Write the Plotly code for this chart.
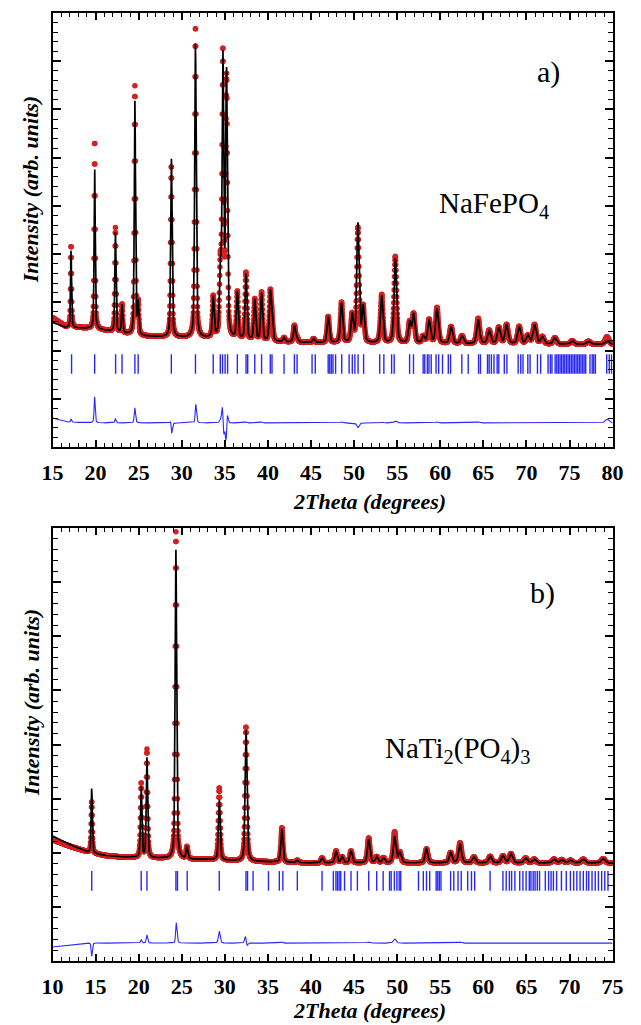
import numpy as np
import plotly.graph_objects as go

W, H = 641, 1025

# ---------------- Panel a) NaFePO4 ----------------
a_range = (15.0, 80.0)
# background of the observed pattern (2theta, level)
a_bg_tt = [15.0, 16.5, 20.0, 25.0, 30.0, 35.0, 40.0, 45.0, 50.0, 60.0, 70.0, 80.0]
a_bg_obs = [2.68, 2.50, 2.45, 2.30, 2.27, 2.24, 2.18, 2.16, 2.15, 2.14, 2.13, 2.13]
a_bg_calc = [2.58, 2.48, 2.45, 2.30, 2.27, 2.24, 2.18, 2.16, 2.15, 2.14, 2.13, 2.13]
# reflections: position, observed top, calculated top
a_pos = [17.15, 19.89, 22.30, 23.07, 24.56, 24.94, 28.79, 31.59, 33.65, 34.47,
         34.77, 35.20, 36.45, 37.45, 38.47, 39.26, 40.27, 40.47, 41.87, 43.07,
         43.38, 45.30, 46.99, 48.54, 49.77, 50.44, 51.05, 53.20, 54.78, 56.45,
         56.90, 58.03, 58.70, 59.62, 61.25, 62.52, 64.40, 65.67, 66.79, 67.70,
         69.15, 70.16, 70.94, 71.84, 73.30, 75.30, 77.20, 79.35]
a_obs_top = [4.18, 6.35, 4.54, 2.95, 7.47, 2.95, 5.83, 8.71, 3.09, 3.60,
             8.05, 7.55, 3.19, 3.60, 3.05, 3.19, 3.15, 2.60, 2.26, 2.51,
             2.25, 2.24, 2.70, 2.99, 2.72, 4.52, 2.88, 3.15, 3.94, 2.57,
             2.74, 2.28, 2.63, 2.88, 2.49, 2.30, 2.66, 2.41, 2.47, 2.53,
             2.49, 2.30, 2.53, 2.28, 2.26, 2.20, 2.19, 2.28]
a_calc_top = [4.10, 5.80, 4.45, 2.95, 7.16, 2.95, 5.98, 8.38, 3.09, 3.55,
              7.97, 7.70, 3.19, 3.58, 3.05, 3.17, 3.15, 2.60, 2.26, 2.51,
              2.25, 2.24, 2.70, 2.97, 2.72, 4.62, 2.88, 3.13, 3.90, 2.57,
              2.74, 2.28, 2.63, 2.86, 2.49, 2.30, 2.64, 2.41, 2.47, 2.53,
              2.49, 2.30, 2.53, 2.28, 2.26, 2.20, 2.19, 2.20]
a_calc_shift = {34.77: 0.008, 35.20: -0.008, 28.79: 0.004, 31.59: -0.003}
a_bragg = [17.21, 19.89, 22.32, 23.07, 24.56, 24.94, 28.79, 31.59, 33.65, 34.47,
           34.73, 35.03, 35.32, 36.45, 37.46, 37.65, 38.47, 39.26, 40.27, 40.47,
           41.87, 43.07, 43.38, 45.12, 45.49, 46.99, 47.17, 47.36, 47.55, 47.85,
           48.56, 49.42, 49.79, 50.09, 50.46, 51.10, 52.97, 53.45, 54.35, 54.65,
           56.44, 56.89, 58.01, 58.20, 58.50, 58.69, 58.95, 59.51, 59.81, 60.26,
           60.93, 61.19, 62.50, 63.24, 64.44, 64.66, 65.48, 65.67, 65.93, 66.23,
           66.60, 66.79, 67.43, 67.73, 69.04, 69.34, 69.60, 70.16, 70.42, 71.28,
           71.65, 72.51, 72.77, 72.96, 73.33, 73.52, 73.71, 73.90, 74.08, 74.27,
           74.45, 74.64, 74.83, 75.01, 75.20, 75.39, 75.57, 75.76, 75.95, 76.13,
           76.32, 76.51, 76.69, 76.88, 77.37, 77.63, 77.81, 78.00, 79.32, 79.61,
           79.88]
a_tick_level = 1.72
a_diff_level = 0.50

# ---------------- Panel b) NaTi2(PO4)3 ----------------
b_range = (10.0, 75.0)
b_bg_tt = [10.0, 12.0, 14.0, 16.0, 18.0, 22.0, 28.0, 35.0, 40.0, 75.0]
b_bg_obs = [2.24, 2.12, 2.02, 1.95, 1.92, 1.90, 1.87, 1.83, 1.81, 1.81]
b_bg_calc = [2.31, 2.15, 2.01, 1.95, 1.92, 1.90, 1.87, 1.83, 1.81, 1.81]
b_pos = [14.55, 20.29, 20.96, 24.32, 25.60, 29.35, 32.45, 36.62, 38.41, 41.28,
         42.90, 43.60, 44.64, 46.69, 47.62, 48.40, 49.70, 50.30, 53.40, 56.20,
         57.30, 58.90, 60.78, 62.27, 63.20, 64.90, 65.90, 68.20, 69.10, 70.10,
         71.60, 73.90]
b_obs_top = [2.95, 3.28, 3.90, 7.93, 2.10, 3.20, 4.33, 2.46, 1.86, 1.90,
             2.03, 1.92, 2.03, 2.27, 1.92, 1.90, 2.38, 2.00, 2.07, 2.00,
             2.18, 1.92, 1.93, 1.94, 1.98, 1.90, 1.88, 1.88, 1.87, 1.86,
             1.88, 1.89]
b_calc_top = [3.20, 3.22, 3.75, 7.60, 2.10, 2.98, 4.27, 2.44, 1.86, 1.90,
              2.03, 1.92, 2.03, 2.25, 1.92, 1.90, 2.30, 2.00, 2.07, 2.00,
              2.16, 1.92, 1.93, 1.94, 1.98, 1.90, 1.88, 1.88, 1.87, 1.86,
              1.88, 1.89]
b_calc_shift = {32.45: 0.006, 24.32: -0.003}
b_bragg = [14.55, 20.29, 20.96, 24.32, 24.50, 25.63, 29.35, 32.45, 32.63, 33.27,
           35.06, 36.32, 36.73, 38.41, 41.28, 42.59, 42.89, 43.07, 43.26, 43.45,
           43.89, 44.64, 45.38, 46.69, 47.62, 48.37, 49.11, 49.30, 49.67, 49.97,
           50.23, 50.41, 52.47, 53.03, 53.40, 53.77, 54.52, 54.71, 54.89, 55.08,
           56.20, 56.57, 57.06, 57.43, 58.18, 58.62, 58.99, 60.78, 62.27, 62.65,
           63.02, 63.28, 63.66, 64.22, 64.59, 64.96, 65.33, 65.52, 65.78, 66.00,
           66.26, 66.52, 67.19, 67.57, 67.86, 68.13, 68.50, 69.06, 69.62, 70.10,
           70.48, 70.85, 71.22, 71.60, 71.97, 72.23, 72.61, 72.98, 73.35, 73.73,
           74.09, 74.46]
b_tick_level = 1.48
b_diff_level = 0.33

STEP = 0.02


def pseudo_voigt(x, centre, fwhm, eta=0.45):
    u = (x - centre) / fwhm
    gauss = np.exp(-4.0 * np.log(2.0) * u * u)
    lorentz = 1.0 / (1.0 + 4.0 * u * u)
    return eta * lorentz + (1.0 - eta) * gauss


def profile(tt, bg_tt, bg_lv, pos, tops, shifts, w0, w1, tt0):
    bg = np.interp(tt, bg_tt, bg_lv)
    y = bg.copy()
    for p, top in zip(pos, tops):
        net = top - np.interp(p, bg_tt, bg_lv)
        fwhm = w0 + w1 * (p - tt0)
        y += net * pseudo_voigt(tt, p + shifts.get(p, 0.0), fwhm)
    return y


def build(rng, bg_tt, bg_obs, bg_calc, pos, obs_top, calc_top, shift, w0, w1):
    tt = np.arange(rng[0], rng[1] + STEP / 2, STEP)
    obs = profile(tt, bg_tt, bg_obs, pos, obs_top, {}, w0, w1, rng[0])
    calc = profile(tt, bg_tt, bg_calc, pos, calc_top, shift, w0, w1, rng[0])
    return tt, obs, calc


RED = "rgb(212,32,32)"
BLUE = "rgb(40,40,250)"
SERIF = "Liberation Serif, Times New Roman, serif"

fig = go.Figure()

panels = [
    dict(xa="x", ya="y", rng=a_range, data=build(a_range, a_bg_tt, a_bg_obs, a_bg_calc,
                                                 a_pos, a_obs_top, a_calc_top, a_calc_shift,
                                                 0.12, 0.0055),
         bragg=a_bragg, tick=a_tick_level, diff=a_diff_level),
    dict(xa="x2", ya="y2", rng=b_range, data=build(b_range, b_bg_tt, b_bg_obs, b_bg_calc,
                                                   b_pos, b_obs_top, b_calc_top, b_calc_shift,
                                                   0.13, 0.0055),
         bragg=b_bragg, tick=b_tick_level, diff=b_diff_level),
]

for pnl in panels:
    tt, obs, calc = pnl["data"]
    common = dict(xaxis=pnl["xa"], yaxis=pnl["ya"], showlegend=False, hoverinfo="skip")
    fig.add_trace(go.Scatter(x=tt, y=obs, mode="markers",
                             marker=dict(size=5.5, color=RED, line=dict(width=0)), **common))
    fig.add_trace(go.Scatter(x=tt, y=calc, mode="lines",
                             line=dict(color="black", width=1.7), **common))
    fig.add_trace(go.Scatter(x=pnl["bragg"], y=[pnl["tick"]] * len(pnl["bragg"]), mode="markers",
                             marker=dict(symbol="line-ns", size=14,
                                         line=dict(color=BLUE, width=1.4)), **common))
    fig.add_trace(go.Scatter(x=tt, y=obs - calc + pnl["diff"], mode="lines",
                             line=dict(color=BLUE, width=1.1), **common))

x_dom = [43 / W, 623 / W]


def xaxis_style(rng, anchor):
    vals = list(range(int(rng[0]), int(rng[1]) + 1, 5))
    return dict(domain=x_dom, anchor=anchor, range=list(rng),
                tickmode="array", tickvals=vals, ticktext=[f"<b>{v}</b>" for v in vals],
                ticks="inside", ticklen=7, tickwidth=1.5, tickcolor="black",
                minor=dict(dtick=1, ticks="inside", ticklen=4, tickwidth=1.2, tickcolor="black"),
                showline=True, linewidth=2, linecolor="black", mirror="allticks",
                showgrid=False, zeroline=False, ticklabelstandoff=5,
                tickfont=dict(family=SERIF, size=22, color="black"))


def yaxis_style(top, anchor, dom):
    return dict(domain=dom, anchor=anchor, range=[0, top], dtick=1,
                ticks="inside", ticklen=8, tickwidth=1.5, tickcolor="black",
                minor=dict(dtick=0.2, ticks="inside", ticklen=5, tickwidth=1.2, tickcolor="black"),
                showline=True, linewidth=2, linecolor="black", mirror="allticks",
                showgrid=False, zeroline=False, showticklabels=False)


fig.update_layout(
    width=W, height=H, autosize=False,
    margin=dict(l=0, r=0, t=0, b=0),
    paper_bgcolor="white", plot_bgcolor="white",
    xaxis=xaxis_style(a_range, "y"),
    yaxis=yaxis_style(9, "x", [1 - 447 / H, 1 - 13 / H]),
    xaxis2=xaxis_style(b_range, "y2"),
    yaxis2=yaxis_style(8, "x2", [1 - 961 / H, 1 - 528 / H]),
)

title_font = dict(family=SERIF, size=22, color="black")
label_font = dict(family=SERIF, size=30, color="black")
ann = []
for yc in (501, 1010):
    ann.append(dict(text="<b><i>2Theta (degrees)</i></b>", x=371 / W, y=1 - yc / H,
                    xref="paper", yref="paper", showarrow=False, font=title_font,
                    xanchor="center", yanchor="middle", borderpad=0))
for yc in (190, 703):
    ann.append(dict(text="<b><i>Intensity (arb. units)</i></b>", x=21 / W, y=1 - yc / H,
                    xref="paper", yref="paper", showarrow=False, font=title_font,
                    textangle=-90, xanchor="center", yanchor="middle"))
ann.append(dict(text="a)", x=557 / W, y=1 - 72 / H, xref="paper", yref="paper", showarrow=False,
                font=label_font, xanchor="center", yanchor="middle"))
ann.append(dict(text="b)", x=550 / W, y=1 - 593 / H, xref="paper", yref="paper", showarrow=False,
                font=label_font, xanchor="center", yanchor="middle"))
ann.append(dict(text="NaFePO<sub>4</sub>", x=500 / W, y=1 - 205 / H, xref="paper", yref="paper",
                showarrow=False, font=dict(family=SERIF, size=29, color="black"),
                xanchor="center", yanchor="middle"))
ann.append(dict(text="NaTi<sub>2</sub>(PO<sub>4</sub>)<sub>3</sub>", x=462 / W, y=1 - 750 / H,
                xref="paper", yref="paper", showarrow=False,
                font=dict(family=SERIF, size=29, color="black"),
                xanchor="center", yanchor="middle"))
fig.update_layout(annotations=ann)

fig.write_html("out.html")
